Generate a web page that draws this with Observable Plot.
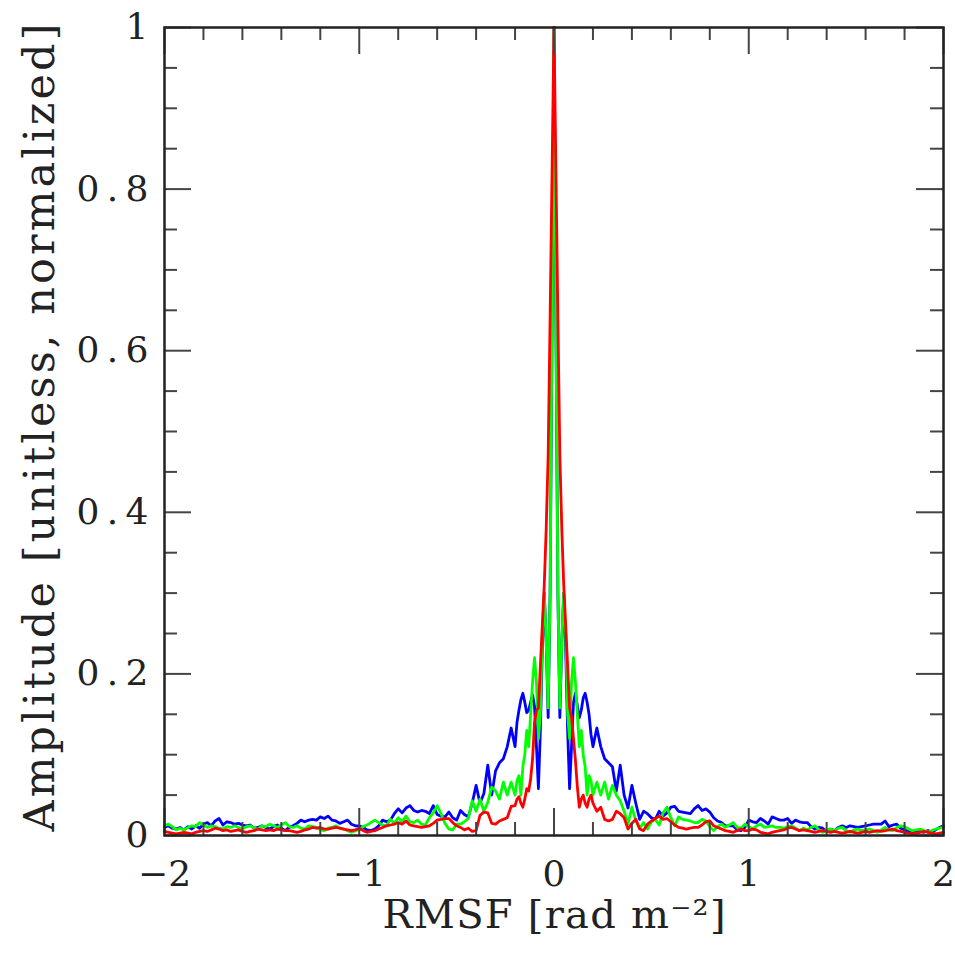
<!DOCTYPE html>
<html><head><meta charset="utf-8">
<script src="https://cdn.jsdelivr.net/npm/d3@7"></script>
<script src="https://cdn.jsdelivr.net/npm/@observablehq/plot@0.6"></script>
<style>body{margin:0;background:#fff}</style>
</head><body><div id="chart"></div>
<script>
// sample positions (grid of the RMSF samples)
const xLeft = d3.range(90).map(i => +(-2 + i * 0.02).toFixed(2));
const xCenter = d3.range(41).map(i => +(-0.2 + i * 0.01).toFixed(2));
const xRight = d3.range(90).map(i => +(0.22 + i * 0.02).toFixed(2));
const xs = [...xLeft, ...xCenter, ...xRight];

const blue = [
  0.010, 0.012, 0.009, 0.008, 0.010, 0.007, 0.011, 0.008, 0.012, 0.009,
  0.014, 0.016, 0.012, 0.018, 0.021, 0.013, 0.017, 0.016, 0.014, 0.015,
  0.013, 0.012, 0.013, 0.009, 0.010, 0.012, 0.010, 0.008, 0.011, 0.013,
  0.009, 0.006, 0.010, 0.012, 0.015, 0.019, 0.017, 0.019, 0.020, 0.019,
  0.023, 0.021, 0.024, 0.019, 0.018, 0.015, 0.017, 0.019, 0.014, 0.012,
  0.012, 0.010, 0.007, 0.006, 0.008, 0.012, 0.019, 0.017, 0.019, 0.027,
  0.033, 0.028, 0.034, 0.037, 0.031, 0.029, 0.031, 0.030, 0.027, 0.037,
  0.026, 0.024, 0.023, 0.029, 0.022, 0.019, 0.031, 0.026, 0.023, 0.040,
  0.062, 0.040, 0.052, 0.087, 0.050, 0.080, 0.090, 0.095, 0.110, 0.133,
  // center
  0.110, 0.140, 0.155, 0.168, 0.176, 0.165, 0.152, 0.155, 0.165, 0.174,
  0.160, 0.110, 0.058, 0.130, 0.230, 0.300, 0.240, 0.146, 0.300, 0.620,
  1.000,
  0.620, 0.300, 0.146, 0.240, 0.300, 0.230, 0.130, 0.058, 0.110, 0.165,
  0.176, 0.160, 0.146, 0.155, 0.170, 0.176, 0.165, 0.150, 0.125, 0.110,
  // right
  0.133, 0.110, 0.095, 0.090, 0.085, 0.055, 0.087, 0.050, 0.034, 0.062,
  0.040, 0.020, 0.030, 0.027, 0.022, 0.020, 0.030, 0.024, 0.028, 0.035,
  0.036, 0.030, 0.029, 0.028, 0.027, 0.033, 0.037, 0.031, 0.033, 0.029,
  0.022, 0.018, 0.016, 0.012, 0.012, 0.012, 0.007, 0.006, 0.010, 0.019,
  0.017, 0.016, 0.021, 0.018, 0.014, 0.023, 0.021, 0.019, 0.019, 0.021,
  0.015, 0.019, 0.017, 0.016, 0.016, 0.011, 0.008, 0.010, 0.009, 0.005,
  0.008, 0.006, 0.010, 0.012, 0.010, 0.012, 0.011, 0.010, 0.011, 0.012,
  0.013, 0.014, 0.014, 0.014, 0.018, 0.011, 0.013, 0.014, 0.009, 0.007,
  0.005, 0.004, 0.006, 0.005, 0.004, 0.006, 0.004, 0.007, 0.010, 0.012
];

const green = [
  0.012, 0.014, 0.011, 0.007, 0.009, 0.007, 0.010, 0.012, 0.011, 0.016,
  0.013, 0.010, 0.012, 0.011, 0.009, 0.008, 0.011, 0.010, 0.012, 0.010,
  0.008, 0.011, 0.012, 0.009, 0.008, 0.012, 0.011, 0.014, 0.012, 0.010,
  0.013, 0.016, 0.011, 0.010, 0.012, 0.009, 0.008, 0.012, 0.011, 0.010,
  0.007, 0.006, 0.009, 0.010, 0.012, 0.009, 0.008, 0.006, 0.004, 0.006,
  0.007, 0.011, 0.013, 0.016, 0.019, 0.016, 0.013, 0.012, 0.020, 0.015,
  0.022, 0.017, 0.024, 0.017, 0.016, 0.019, 0.014, 0.013, 0.022, 0.028,
  0.037, 0.027, 0.015, 0.008, 0.007, 0.014, 0.014, 0.017, 0.021, 0.043,
  0.030, 0.045, 0.030, 0.041, 0.060, 0.055, 0.045, 0.066, 0.050, 0.066,
  // center
  0.050, 0.068, 0.074, 0.050, 0.085, 0.100, 0.130, 0.110, 0.150, 0.190,
  0.220, 0.190, 0.120, 0.150, 0.250, 0.300, 0.240, 0.158, 0.300, 0.640,
  1.000,
  0.640, 0.300, 0.158, 0.240, 0.300, 0.250, 0.150, 0.120, 0.190, 0.220,
  0.190, 0.150, 0.110, 0.130, 0.100, 0.085, 0.050, 0.074, 0.068, 0.050,
  // right
  0.066, 0.050, 0.066, 0.045, 0.062, 0.050, 0.043, 0.030, 0.014, 0.035,
  0.018, 0.009, 0.016, 0.008, 0.017, 0.020, 0.013, 0.028, 0.035, 0.022,
  0.012, 0.023, 0.020, 0.019, 0.018, 0.016, 0.016, 0.020, 0.018, 0.011,
  0.006, 0.011, 0.014, 0.010, 0.013, 0.016, 0.010, 0.009, 0.014, 0.011,
  0.008, 0.012, 0.014, 0.010, 0.011, 0.012, 0.010, 0.010, 0.009, 0.011,
  0.012, 0.009, 0.006, 0.009, 0.007, 0.010, 0.012, 0.007, 0.004, 0.007,
  0.008, 0.006, 0.009, 0.010, 0.006, 0.004, 0.007, 0.008, 0.006, 0.007,
  0.008, 0.006, 0.004, 0.007, 0.010, 0.007, 0.006, 0.010, 0.012, 0.011,
  0.008, 0.006, 0.007, 0.008, 0.006, 0.004, 0.006, 0.008, 0.009, 0.010
];

const red = [
  0.005, 0.004, 0.003, 0.002, 0.003, 0.004, 0.003, 0.002, 0.004, 0.005,
  0.006, 0.005, 0.007, 0.009, 0.008, 0.006, 0.007, 0.005, 0.006, 0.007,
  0.005, 0.004, 0.005, 0.006, 0.008, 0.007, 0.006, 0.007, 0.006, 0.008,
  0.007, 0.006, 0.006, 0.005, 0.004, 0.005, 0.007, 0.008, 0.010, 0.009,
  0.010, 0.008, 0.008, 0.009, 0.010, 0.009, 0.008, 0.007, 0.006, 0.007,
  0.009, 0.006, 0.004, 0.005, 0.006, 0.008, 0.010, 0.012, 0.013, 0.014,
  0.016, 0.014, 0.018, 0.013, 0.012, 0.011, 0.010, 0.011, 0.012, 0.015,
  0.019, 0.020, 0.021, 0.021, 0.016, 0.012, 0.010, 0.007, 0.009, 0.005,
  0.006, 0.025, 0.029, 0.028, 0.015, 0.014, 0.018, 0.020, 0.022, 0.036,
  // center
  0.037, 0.045, 0.048, 0.040, 0.035, 0.045, 0.058, 0.055, 0.070, 0.095,
  0.140, 0.155, 0.158, 0.210, 0.260, 0.310, 0.380, 0.470, 0.640, 0.820,
  1.000,
  0.820, 0.640, 0.470, 0.380, 0.310, 0.260, 0.210, 0.158, 0.146, 0.120,
  0.093, 0.060, 0.035, 0.045, 0.050, 0.040, 0.035, 0.045, 0.050, 0.040,
  // right
  0.030, 0.035, 0.020, 0.018, 0.020, 0.030, 0.027, 0.022, 0.008, 0.015,
  0.020, 0.008, 0.006, 0.014, 0.018, 0.021, 0.024, 0.020, 0.021, 0.017,
  0.013, 0.010, 0.009, 0.008, 0.009, 0.010, 0.010, 0.013, 0.017, 0.018,
  0.012, 0.010, 0.008, 0.006, 0.005, 0.004, 0.006, 0.008, 0.006, 0.006,
  0.008, 0.007, 0.004, 0.003, 0.002, 0.004, 0.005, 0.006, 0.007, 0.009,
  0.010, 0.008, 0.006, 0.007, 0.006, 0.005, 0.004, 0.005, 0.006, 0.005,
  0.004, 0.005, 0.004, 0.003, 0.004, 0.005, 0.004, 0.003, 0.004, 0.005,
  0.004, 0.005, 0.006, 0.005, 0.006, 0.007, 0.008, 0.006, 0.005, 0.004,
  0.003, 0.002, 0.003, 0.004, 0.005, 0.004, 0.003, 0.002, 0.003, 0.004
];

const xMajor = [-2, -1, 0, 1, 2];
const xMinor = [-1.8, -1.6, -1.4, -1.2, -0.8, -0.6, -0.4, -0.2, 0.2, 0.4, 0.6, 0.8, 1.2, 1.4, 1.6, 1.8];
const yMajor = [0, 0.2, 0.4, 0.6, 0.8, 1];
const yMinor = [0.05, 0.1, 0.15, 0.25, 0.3, 0.35, 0.45, 0.5, 0.55, 0.65, 0.7, 0.75, 0.85, 0.9, 0.95];
const xLabel = "RMSF [rad m⁻²]";
const yLabel = "Amplitude [unitless, normalized]";

const toRows = (vals) => xs.map((x, i) => ({x, y: vals[i]}));

const W = 955, Hgt = 953, mL = 164, mR = 12, mT = 27, mB = 118;
const PH = Hgt - mT - mB, PW = W - mL - mR;
const majLen = 27, minLen = 13;
const tickStyle = {stroke: "#444", strokeWidth: 2};
const ink = "#222";

const chart = Plot.plot({
  width: W, height: Hgt,
  marginLeft: mL, marginRight: mR, marginTop: mT, marginBottom: mB,
  x: {domain: [-2, 2]},
  y: {domain: [0, 1]},
  style: {fontFamily: "'DejaVu Serif', serif", fontSize: "36px", background: "#fff", color: ink},
  marks: [
    Plot.line(toRows(blue), {x: "x", y: "y", stroke: "#0000ff", strokeWidth: 2.8}),
    Plot.line(toRows(green), {x: "x", y: "y", stroke: "#00ff00", strokeWidth: 2.8}),
    Plot.line(toRows(red), {x: "x", y: "y", stroke: "#ff0000", strokeWidth: 2.8}),
    // inward ticks on all four sides
    Plot.tickX(xMajor, {x: d => d, insetTop: PH - majLen, ...tickStyle}),
    Plot.tickX(xMajor, {x: d => d, insetBottom: PH - majLen, ...tickStyle}),
    Plot.tickX(xMinor, {x: d => d, insetTop: PH - minLen, ...tickStyle}),
    Plot.tickX(xMinor, {x: d => d, insetBottom: PH - minLen, ...tickStyle}),
    Plot.tickY(yMajor, {y: d => d, insetRight: PW - majLen, ...tickStyle}),
    Plot.tickY(yMajor, {y: d => d, insetLeft: PW - majLen, ...tickStyle}),
    Plot.tickY(yMinor, {y: d => d, insetRight: PW - minLen, ...tickStyle}),
    Plot.tickY(yMinor, {y: d => d, insetLeft: PW - minLen, ...tickStyle}),
    Plot.frame({stroke: ink, strokeWidth: 2.5}),
    Plot.axisX(xMajor, {tickSize: 0, tickPadding: 25, label: null, fill: ink,
      tickFormat: d => d < 0 ? "\u2212" + (-d) : String(d)}),
    Plot.axisY(yMajor, {tickSize: 0, tickPadding: 16, label: null, fill: ink,
      tickFormat: d => String(d)}),
    Plot.text([xLabel], {frameAnchor: "bottom", dy: 92, lineAnchor: "bottom", fontSize: 40, fill: ink}),
    Plot.text([yLabel], {frameAnchor: "left", rotate: -90, textAnchor: "middle", dx: -111, dy: -4,
      lineAnchor: "bottom", fontSize: 43, fill: ink})
  ]
});

// widen texts to the reference's wide lettering
chart.querySelectorAll("text").forEach(t => {
  const s = t.textContent;
  let len = null;
  if (s === yLabel) len = 808;
  else if (s === xLabel) len = 343;
  else if (/^0\.\d$/.test(s)) len = 72;
  if (len) { t.setAttribute("textLength", len); t.setAttribute("lengthAdjust", "spacing"); }
});
document.getElementById("chart").appendChild(chart);
</script>
</body></html>
